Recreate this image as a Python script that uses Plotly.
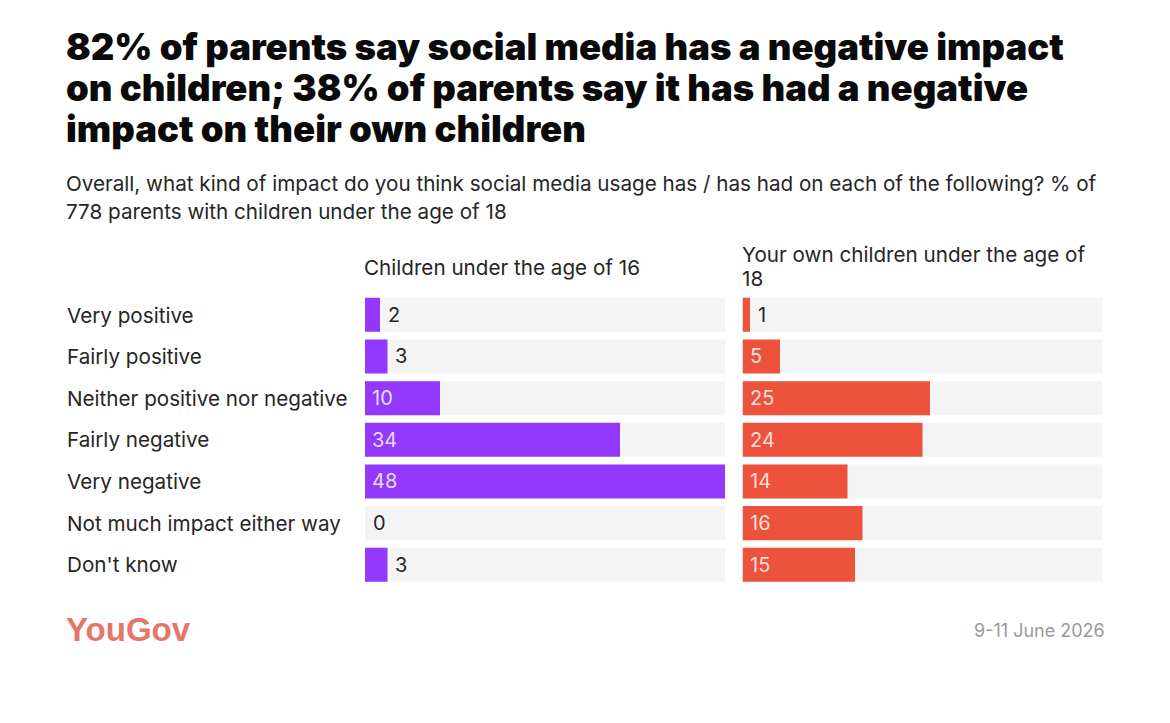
import plotly.graph_objects as go

W = 1170
H = 723
# the page body keeps its 8px margin, so the figure is smaller and coordinates are shifted
PAGE_MARGIN = 8
FIG_W = W - 2 * PAGE_MARGIN
FIG_H = H - 2 * PAGE_MARGIN

categories = [
    "Very positive",
    "Fairly positive",
    "Neither positive nor negative",
    "Fairly negative",
    "Very negative",
    "Not much impact either way",
    "Don't know",
]
under_16 = [2, 3, 10, 34, 48, 0, 3]
own_children = [1, 5, 25, 24, 14, 16, 15]
full_scale = [48] * len(categories)

title_lines = [
    "82% of parents say social media has a negative impact",
    "on children; 38% of parents say it has had a negative",
    "impact on their own children",
]
subtitle_lines = [
    "Overall, what kind of impact do you think social media usage has / has had on each of the following? % of",
    "778 parents with children under the age of 18",
]

FONT = "Inter"
INK = "#262626"
TRACK = "#f4f4f5"
PURPLE = "#9338fd"
RED = "#ec523c"
BODY_SIZE = 20.65


def px(x):
    return (x - PAGE_MARGIN) / FIG_W


def py(y):
    return 1 - (y - PAGE_MARGIN) / FIG_H


def text(x, y, s, size, color=INK, weight=400, xanchor="left", family=FONT):
    return dict(
        xref="paper", yref="paper", x=px(x), y=py(y), text=s, showarrow=False,
        xanchor=xanchor, yanchor="middle", align="left",
        font=dict(family=family, size=size, color=color, weight=weight),
    )


fig = go.Figure()

panels = [
    ("x", "y", under_16, PURPLE, "xaxis", "yaxis", 365, 725),
    ("x2", "y2", own_children, RED, "xaxis2", "yaxis2", 742.5, 1102.5),
]

annotations = []
for xa, ya, values, color, xname, yname, left, right in panels:
    fig.add_trace(go.Bar(
        x=full_scale, y=categories, orientation="h", xaxis=xa, yaxis=ya,
        marker=dict(color=TRACK, line_width=0), hoverinfo="skip", showlegend=False,
    ))
    fig.add_trace(go.Bar(
        x=values, y=categories, orientation="h", xaxis=xa, yaxis=ya,
        marker=dict(color=color, line_width=0), showlegend=False,
    ))
    fig.update_layout({
        xname: dict(domain=[px(left), px(right)], range=[0, 48], visible=False, fixedrange=True),
        yname: dict(
            domain=[py(585.6), py(294)], type="category", categoryorder="array",
            categoryarray=categories, range=[6.5, -0.5], visible=False, fixedrange=True,
        ),
    })
    for cat, v in zip(categories, values):
        inside = v >= 5
        annotations.append(dict(
            xref=xa, yref=ya, x=v if not inside else 0, y=cat, text=str(v), showarrow=False,
            xanchor="left", yanchor="middle", xshift=5 if inside else 5.5,
            font=dict(family=FONT, size=20,
                      color="rgba(255,255,255,0.82)" if inside else INK),
        ))

for i, line in enumerate(title_lines):
    annotations.append(text(63.5, 47 + i * 41, line, 36.5, color="#0a0a0a", weight=900))
for i, line in enumerate(subtitle_lines):
    annotations.append(text(63.5, 183 + i * 28.5, line, BODY_SIZE))

annotations.append(text(362, 267, "Children under the age of 16", BODY_SIZE))
annotations.append(text(739.5, 254, "Your own children under the age of", BODY_SIZE))
annotations.append(text(739.5, 278.5, "18", BODY_SIZE))

for i, cat in enumerate(categories):
    annotations.append(text(65, 315 + i * 41.6, cat, BODY_SIZE))

annotations.append(text(64, 629, "YouGov", 33, color="#e4766a", weight=700, family="Liberation Sans"))
annotations.append(text(1107, 630, "9-11 June 2026", 18, color="#9a9a9a", xanchor="right"))

fig.update_layout(
    width=FIG_W,
    height=FIG_H,
    margin=dict(l=0, r=0, t=0, b=0),
    barmode="overlay",
    bargap=0.183,
    paper_bgcolor="white",
    plot_bgcolor="white",
    annotations=annotations,
)

fig.write_html("out.html")
